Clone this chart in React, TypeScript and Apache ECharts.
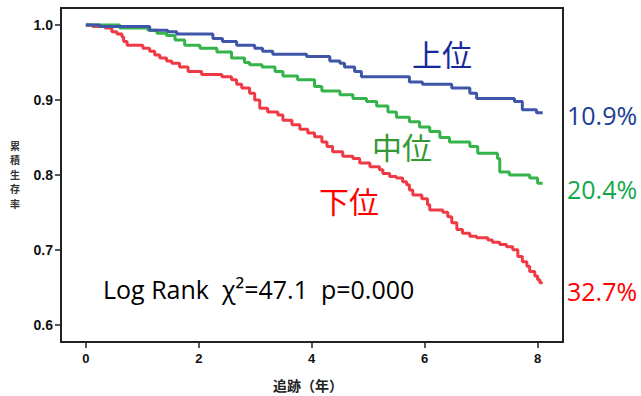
import React, { useEffect, useRef } from "react";
import * as echarts from "echarts";

// Kaplan-Meier step curves: event times (years) and survival after each step
const upperT = [0, 0.25, 1.13, 1.45, 1.61, 2.25, 2.42, 2.67, 2.99, 3.13, 3.31, 3.91, 4.32, 4.5, 4.58, 4.76, 4.88, 5.73, 5.96, 6.48, 6.8, 6.92, 7.59, 7.73, 7.98, 8.09];
const upperV = [1.0, 0.998, 0.993, 0.991, 0.988, 0.982, 0.978, 0.973, 0.969, 0.965, 0.961, 0.958, 0.952, 0.949, 0.944, 0.938, 0.931, 0.924, 0.921, 0.916, 0.909, 0.902, 0.898, 0.887, 0.883, 0.883];

const middleT = [0, 0.6, 1.1, 1.26, 1.43, 1.58, 1.75, 2.02, 2.32, 2.58, 2.81, 2.9, 3.12, 3.35, 3.49, 3.75, 4.05, 4.18, 4.5, 4.73, 4.97, 5.15, 5.35, 5.5, 5.73, 5.91, 6.09, 6.27, 6.44, 6.8, 6.94, 7.29, 7.33, 7.5, 7.86, 8.0, 8.09];
const middleV = [1.0, 0.996, 0.993, 0.989, 0.986, 0.98, 0.973, 0.969, 0.964, 0.956, 0.95, 0.947, 0.944, 0.938, 0.932, 0.927, 0.918, 0.912, 0.907, 0.902, 0.898, 0.892, 0.884, 0.877, 0.871, 0.864, 0.858, 0.85, 0.844, 0.838, 0.829, 0.822, 0.804, 0.8, 0.796, 0.789, 0.789];

const lowerT = [0, 0.12, 0.34, 0.46, 0.55, 0.64, 0.67, 0.73, 1.01, 1.13, 1.22, 1.31, 1.43, 1.52, 1.66, 1.81, 2.05, 2.41, 2.58, 2.67, 2.76, 2.9, 2.99, 3.08, 3.22, 3.4, 3.49, 3.65, 3.79, 3.93, 4.05, 4.18, 4.27, 4.37, 4.55, 4.73, 4.85, 5.03, 5.2, 5.26, 5.38, 5.5, 5.61, 5.68, 5.73, 5.79, 5.95, 6.05, 6.09, 6.32, 6.41, 6.48, 6.57, 6.67, 6.8, 6.92, 7.12, 7.2, 7.33, 7.45, 7.56, 7.65, 7.73, 7.81, 7.86, 7.95, 8.0, 8.04, 8.09];
const lowerV = [1.0, 0.998, 0.996, 0.991, 0.988, 0.984, 0.978, 0.973, 0.969, 0.965, 0.96, 0.956, 0.952, 0.949, 0.944, 0.938, 0.934, 0.931, 0.927, 0.921, 0.916, 0.909, 0.9, 0.889, 0.884, 0.88, 0.873, 0.867, 0.861, 0.856, 0.851, 0.844, 0.838, 0.831, 0.825, 0.822, 0.816, 0.811, 0.807, 0.802, 0.798, 0.796, 0.791, 0.787, 0.78, 0.773, 0.768, 0.76, 0.753, 0.75, 0.744, 0.736, 0.727, 0.722, 0.718, 0.716, 0.713, 0.71, 0.707, 0.704, 0.7, 0.691, 0.684, 0.678, 0.671, 0.665, 0.66, 0.656, 0.656];

const groupNames = ["上位", "中位", "下位"];
const eventRates = ["10.9%", "20.4%", "32.7%"];
const xTicks = [0, 2, 4, 6, 8];
const yTicks = [0.6, 0.7, 0.8, 0.9, 1.0];
const yTitle = "累積生存率";
const xTitle = "追跡（年）";
const statText = "Log Rank  χ²=47.1  p=0.000";

const pairs = (t: number[], v: number[]) => t.map((x, i) => [x, v[i]]);

export default function App() {
  const ref = useRef<HTMLDivElement>(null);
  useEffect(() => {
    if (!ref.current) return;
    const chart = echarts.init(ref.current, null, { renderer: "svg" });
    const cjk = "'Noto Sans CJK JP', sans-serif";
    const latin = "'Open Sans', 'Noto Sans', sans-serif";
    const lineColors = ["#3f56a8", "#34b44a", "#ef3a45"];
    const series = [
      pairs(upperT, upperV),
      pairs(middleT, middleV),
      pairs(lowerT, lowerV),
    ].map((d, i) => ({
      type: "line",
      name: groupNames[i],
      step: "end",
      data: d,
      showSymbol: false,
      lineStyle: { width: 3, color: lineColors[i] },
      itemStyle: { color: lineColors[i] },
      z: 3 - i,
    }));
    const yTitleChars = yTitle.split("").map((ch, i) => ({
      type: "text",
      x: 15,
      y: 145 + i * 14.6,
      style: {
        text: ch,
        font: `bold 10px ${cjk}`,
        fill: "#333",
        align: "center",
        verticalAlign: "middle",
      },
    }));
    chart.setOption({
      animation: false,
      grid: {
        left: 61,
        right: 78,
        top: 8,
        bottom: 54,
        show: true,
        borderColor: "#222",
        borderWidth: 2,
      },
      xAxis: {
        type: "value",
        min: -0.44,
        max: 8.45,
        splitLine: { show: false },
        axisLine: { show: true, onZero: false, lineStyle: { color: "#222", width: 2 } },
        axisTick: { show: true, length: 6, customValues: xTicks, lineStyle: { color: "#222", width: 1.5 } },
        axisLabel: {
          customValues: xTicks,
          margin: 10,
          color: "#111",
          fontSize: 13,
          fontWeight: "bold",
          fontFamily: "'Liberation Sans', Arial, sans-serif",
        },
      },
      yAxis: {
        type: "value",
        min: 0.577,
        max: 1.0227,
        splitLine: { show: false },
        axisLine: { show: true, onZero: false, lineStyle: { color: "#222", width: 2 } },
        axisTick: { show: true, length: 6, customValues: yTicks, lineStyle: { color: "#222", width: 1.5 } },
        axisLabel: {
          customValues: yTicks,
          margin: 8,
          color: "#111",
          fontSize: 14,
          fontWeight: "bold",
          fontFamily: "'Liberation Sans', Arial, sans-serif",
          formatter: (v: number) => v.toFixed(1),
        },
      },
      series,
      graphic: [
        ...yTitleChars,
        {
          type: "text",
          x: 308,
          y: 385,
          style: {
            text: xTitle,
            font: `bold 14px ${cjk}`,
            fill: "#222",
            align: "center",
            verticalAlign: "middle",
          },
        },
        {
          type: "text",
          x: 442,
          y: 53,
          style: { text: groupNames[0], font: `30px ${cjk}`, fill: "#16289c", align: "center", verticalAlign: "middle" },
        },
        {
          type: "text",
          x: 402,
          y: 146,
          style: { text: groupNames[1], font: `30px ${cjk}`, fill: "#339933", align: "center", verticalAlign: "middle" },
        },
        {
          type: "text",
          x: 349,
          y: 200,
          style: { text: groupNames[2], font: `30px ${cjk}`, fill: "#ff0000", align: "center", verticalAlign: "middle" },
        },
        {
          type: "text",
          x: 567,
          y: 115,
          style: { text: eventRates[0], font: `25px ${latin}`, fill: "#1c3c96", align: "left", verticalAlign: "middle" },
        },
        {
          type: "text",
          x: 567,
          y: 189,
          style: { text: eventRates[1], font: `25px ${latin}`, fill: "#12a84a", align: "left", verticalAlign: "middle" },
        },
        {
          type: "text",
          x: 567,
          y: 291,
          style: { text: eventRates[2], font: `25px ${latin}`, fill: "#ff0000", align: "left", verticalAlign: "middle" },
        },
        {
          type: "text",
          x: 103,
          y: 289,
          style: { text: statText, font: `25px ${latin}`, fill: "#000", align: "left", verticalAlign: "middle" },
        },
      ],
    });
    return () => chart.dispose();
  }, []);
  return (
    <div
      ref={ref}
      style={{ position: "fixed", left: 0, top: 0, width: 641, height: 396, background: "#fff" }}
    />
  );
}
